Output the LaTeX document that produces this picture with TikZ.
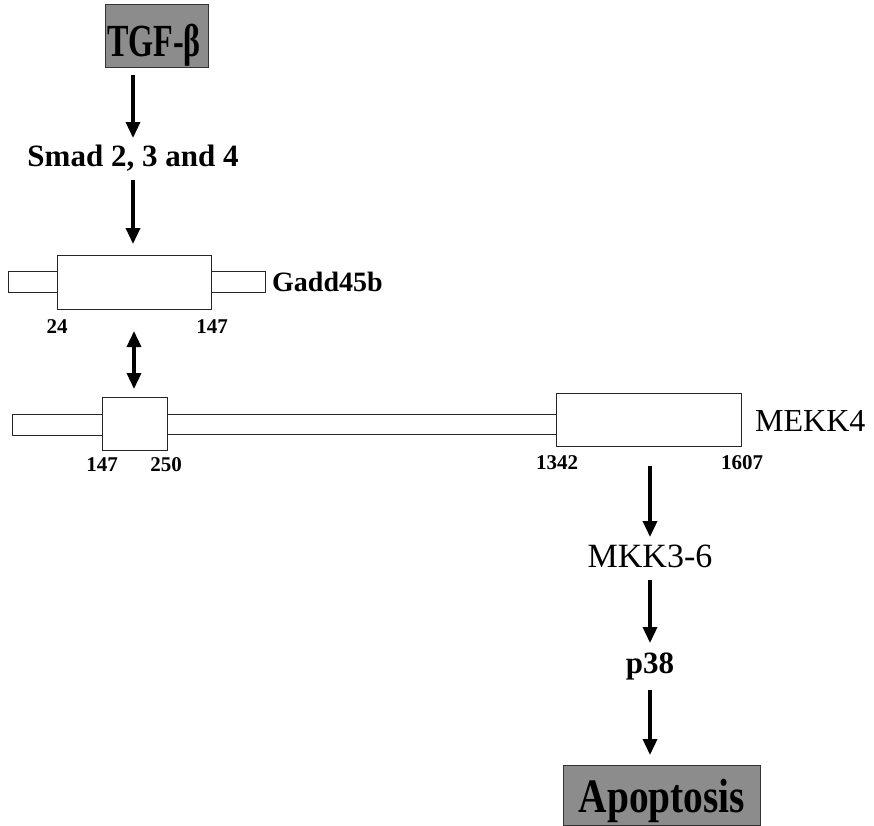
\documentclass[tikz,border=0pt]{standalone}
\usepackage{fontspec}
\usepackage{graphicx}
\setmainfont{Liberation Serif}
\usetikzlibrary{arrows.meta}
\tikzset{
  x=1pt, y=-1pt,
  dom/.style={draw=black!85, line width=0.9pt, fill=white},
  hilite/.style={draw=black!80, line width=1pt, fill=black!45},
  flow/.style={line width=3.4pt, -{Triangle[length=16pt,width=14pt]}},
  bothflow/.style={line width=3.4pt, {Triangle[length=16pt,width=14pt]}-{Triangle[length=16pt,width=14pt]}},
  lbl/.style={inner sep=0pt, font=\fontsize{31}{32}\selectfont\bfseries},
  reglbl/.style={inner sep=0pt, font=\fontsize{32}{33}\selectfont},
  num/.style={inner sep=0pt, font=\fontsize{21}{22}\selectfont\bfseries},
}
\begin{document}
\begin{tikzpicture}
\useasboundingbox (0,0) rectangle (874,825);
% TGF-beta
\draw[hilite] (105,4) rectangle (208,67);
\node[inner sep=0pt, anchor=base] (tgf) at (154,56) {\fontsize{46}{46}\selectfont\bfseries\scalebox{0.7}[1]{TGF-β}};
\coordinate (tgfout) at (133,75);
\coordinate (smadin) at (133,138);
\node[lbl] (smad) at (133,158) {Smad 2, 3 and 4};
\draw[flow] (tgfout) -- (smadin);
% Gadd45b
\draw[dom] (8,271) rectangle (57,292);
\draw[dom] (211,271) rectangle (265,292);
\node[dom, minimum width=154pt, minimum height=54pt, inner sep=0pt] (gaddbox) at (134,282) {};
\coordinate (smadout) at (133,180);
\coordinate (gaddin) at (133,244);
\draw[flow] (smadout) -- (gaddin);
\node[lbl, anchor=west, font=\fontsize{28}{29}\selectfont\bfseries] (gadd) at (272,282) {Gadd45b};
\node[num] (g24) at (57,327) {24};
\node[num] (g147) at (212,327) {147};
% MEKK4
\draw[dom] (12,414) rectangle (102,435);
\draw[dom] (167,414) rectangle (556,434);
\node[dom, minimum width=65pt, minimum height=53pt, inner sep=0pt] (mbox1) at (134.5,423.5) {};
\node[dom, minimum width=185pt, minimum height=53pt, inner sep=0pt] (mbox2) at (648.5,419.5) {};
\node[reglbl, anchor=west] (mekk) at (755,421) {MEKK4};
\node[num] (m147) at (102,465) {147};
\node[num] (m250) at (166,465) {250};
\node[num] (m1342) at (557,463) {1342};
\node[num] (m1607) at (742,463) {1607};
\coordinate (dtop) at (134,331);
\coordinate (dbot) at (134,389);
\draw[bothflow] (dtop) -- (dbot);
% cascade
\coordinate (mekkout) at (650,466);
\coordinate (mkkin) at (650,537);
\node[reglbl, font=\fontsize{34}{35}\selectfont] (mkk) at (650,556) {MKK3-6};
\node[lbl] (p38) at (650,666) {p38};
\coordinate (mkkout) at (650,580);
\coordinate (p38in) at (650,643);
\coordinate (p38out) at (650,690);
\coordinate (apotop) at (650,755);
\draw[hilite] (563,765) rectangle (760,825);
\node[inner sep=0pt, anchor=base] (apo) at (662,812) {\fontsize{48}{48}\selectfont\bfseries\scalebox{0.82}[1]{Apoptosis}};
\draw[flow] (mekkout) -- (mkkin);
\draw[flow] (mkkout) -- (p38in);
\draw[flow] (p38out) -- (apotop);
\end{tikzpicture}
\end{document}
